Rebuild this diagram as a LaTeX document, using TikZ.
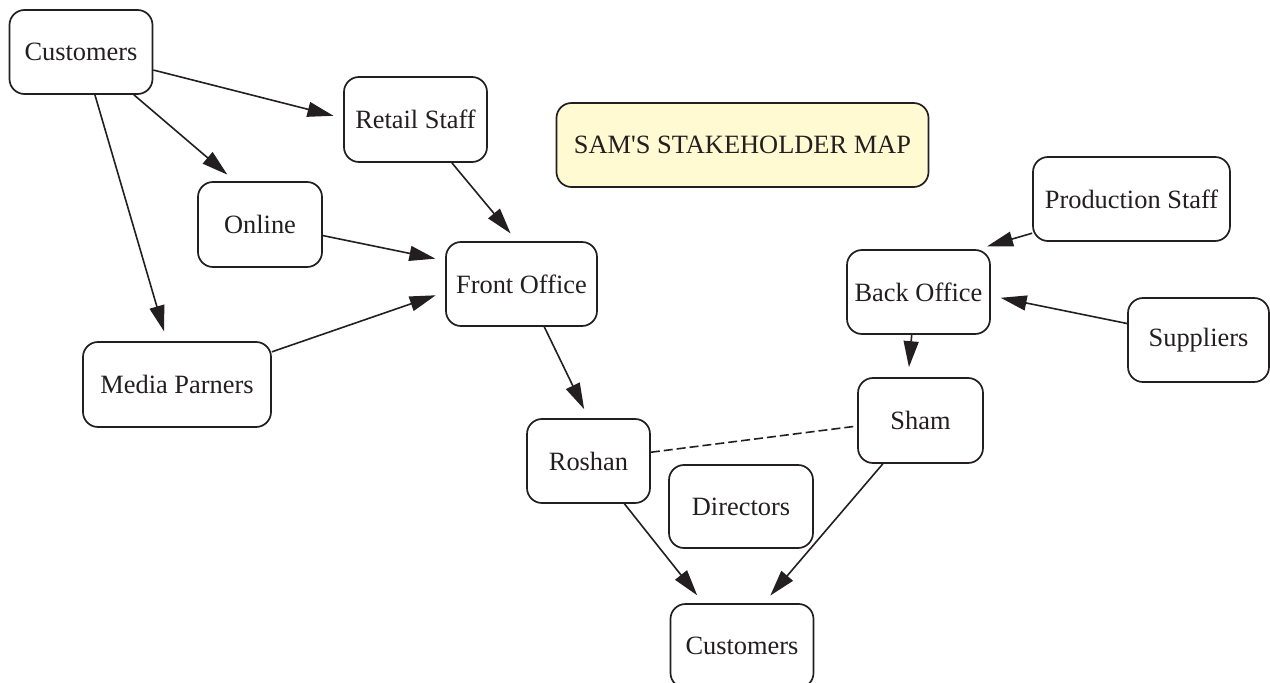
\documentclass[tikz,border=0pt]{standalone}
\usepackage{fontspec}
\setmainfont{Liberation Serif}
\font\samfont="Liberation Serif" at 26.4bp
\usetikzlibrary{arrows.meta}
\definecolor{ink}{RGB}{35,31,32}
\definecolor{titlefill}{RGB}{255,250,210}
\tikzset{
  box/.style={draw=ink, line width=1.7bp, rounded corners=15bp, minimum height=84bp, inner sep=0pt,
    text=ink, font=\fontsize{26.4bp}{30bp}\selectfont, fill=white},
  link/.style={draw=ink, line width=1.6bp, -{Triangle[length=26bp,width=15bp]}, shorten >=10bp},
  dashlink/.style={draw=ink, line width=1.6bp, dash pattern=on 9bp off 4bp},
}
\begin{document}
\begin{tikzpicture}[x=1bp,y=-1bp]
\useasboundingbox (0,0) rectangle (1270,683);
\node[box, minimum width=143bp] (cust1) at (81,52) {Customers};
\node[box, minimum width=143bp, minimum height=85bp] (retail) at (415.5,119.5) {Retail Staff};
\node[box, minimum width=124bp, minimum height=85bp] (online) at (260,224.5) {Online};
\node[box, minimum width=151bp] (front) at (521.5,284) {Front Office};
\node[box, minimum width=188bp, minimum height=85bp] (media) at (177,384.5) {Media Parners};
\node[box, minimum width=372bp, fill=titlefill, font=\samfont] (title) at (742.5,145) {SAM'S STAKEHOLDER MAP};
\node[box, minimum width=197bp] (prod) at (1131.5,199) {Production Staff};
\node[box, minimum width=143bp] (back) at (918.5,292) {Back Office};
\node[box, minimum width=141bp] (supp) at (1198.5,340) {Suppliers};
\node[box, minimum width=125bp, minimum height=85bp] (sham) at (920.5,420.5) {Sham};
\node[box, minimum width=123bp] (roshan) at (588.5,461) {Roshan};
\node[box, minimum width=144bp, minimum height=83bp] (dir) at (741,506.5) {Directors};
\node[box, minimum width=143bp] (cust2) at (742,646) {Customers};

\draw[link] (cust1.-14.6) -- (retail.179.4);
\draw[link] (cust1.-39.1) -- (online.120);
\draw[link] (cust1.-72.4) -- (media.103.4);
\draw[link] (retail.-50.6) -- (front.96.8);
\draw[link] (online.-10.7) -- (front.163.2);
\draw[link] (media.19) -- (front.-174.1);
\draw[link] (front.-62.6) -- (roshan.90);
\draw[dashlink] (roshan.8) -- (sham.185.7);
\draw[link] (roshan.-50.8) -- (cust2.132.9);
\draw[link] (sham.-131) -- (cust2.63.2);
\draw[link] (back.-99.2) -- (sham.106.8);
\draw[link] (prod.-161.8) -- (back.36.1);
\draw[link] (supp.167.3) -- (back.-3.1);
\end{tikzpicture}
\end{document}
